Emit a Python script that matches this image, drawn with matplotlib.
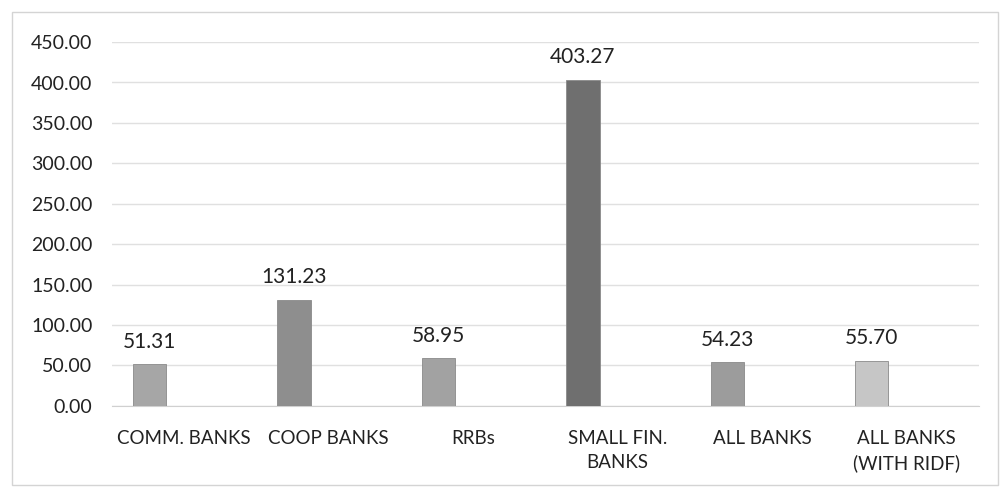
import numpy as np
import matplotlib.pyplot as plt
from matplotlib.patches import Rectangle

plt.rcParams['font.family'] = ['Lato', 'DejaVu Sans']

categories = ["COMM. BANKS", "COOP BANKS", "RRBs", "SMALL FIN.\nBANKS", "ALL BANKS", "ALL BANKS\n(WITH RIDF)"]
values = [51.31, 131.23, 58.95, 403.27, 54.23, 55.70]
yticks = [0, 50, 100, 150, 200, 250, 300, 350, 400, 450]

bar_colors = ['#a6a6a6', '#8e8e8e', '#a2a2a2', '#6f6f6f', '#9c9c9c', '#c6c6c6']

fig = plt.figure(figsize=(10.08, 4.95), dpi=100)
ax = fig.add_axes([0.111, 0.18, 0.86, 0.735])

x = np.arange(len(categories))
bx = x - 0.24
bars = ax.bar(bx, values, width=0.23, color=bar_colors, edgecolor='#8a8a8a', linewidth=0.6, zorder=3)

for xi, v in zip(bx, values):
    ax.annotate(f"{v:.2f}", (xi, v), xytext=(0, 9), textcoords='offset points',
                ha='center', va='bottom', fontsize=15, color='#222222')

ax.set_xlim(-0.5, len(categories) - 0.5)
ax.set_ylim(0, 450)
ax.set_yticks(yticks)
ax.set_yticklabels([f"{t:.2f}" for t in yticks], fontsize=14, color='#222222')
ax.set_xticks(x)
ax.set_xticklabels(categories, fontsize=13.5, color='#222222', va='top', linespacing=1.55)
ax.tick_params(axis='both', length=0)
ax.tick_params(axis='x', pad=17)
ax.tick_params(axis='y', pad=14)
ax.grid(axis='y', color='#e0e0e0', linewidth=1.0, zorder=0)
for s in ['top', 'right', 'left']:
    ax.spines[s].set_visible(False)
ax.spines['bottom'].set_color('#d0d0d0')

fig.patches.append(Rectangle((0.012, 0.02), 0.978, 0.955, transform=fig.transFigure,
                             fill=False, edgecolor='#d4d4d4', linewidth=1.0))

fig.savefig('out.png', dpi=100)
